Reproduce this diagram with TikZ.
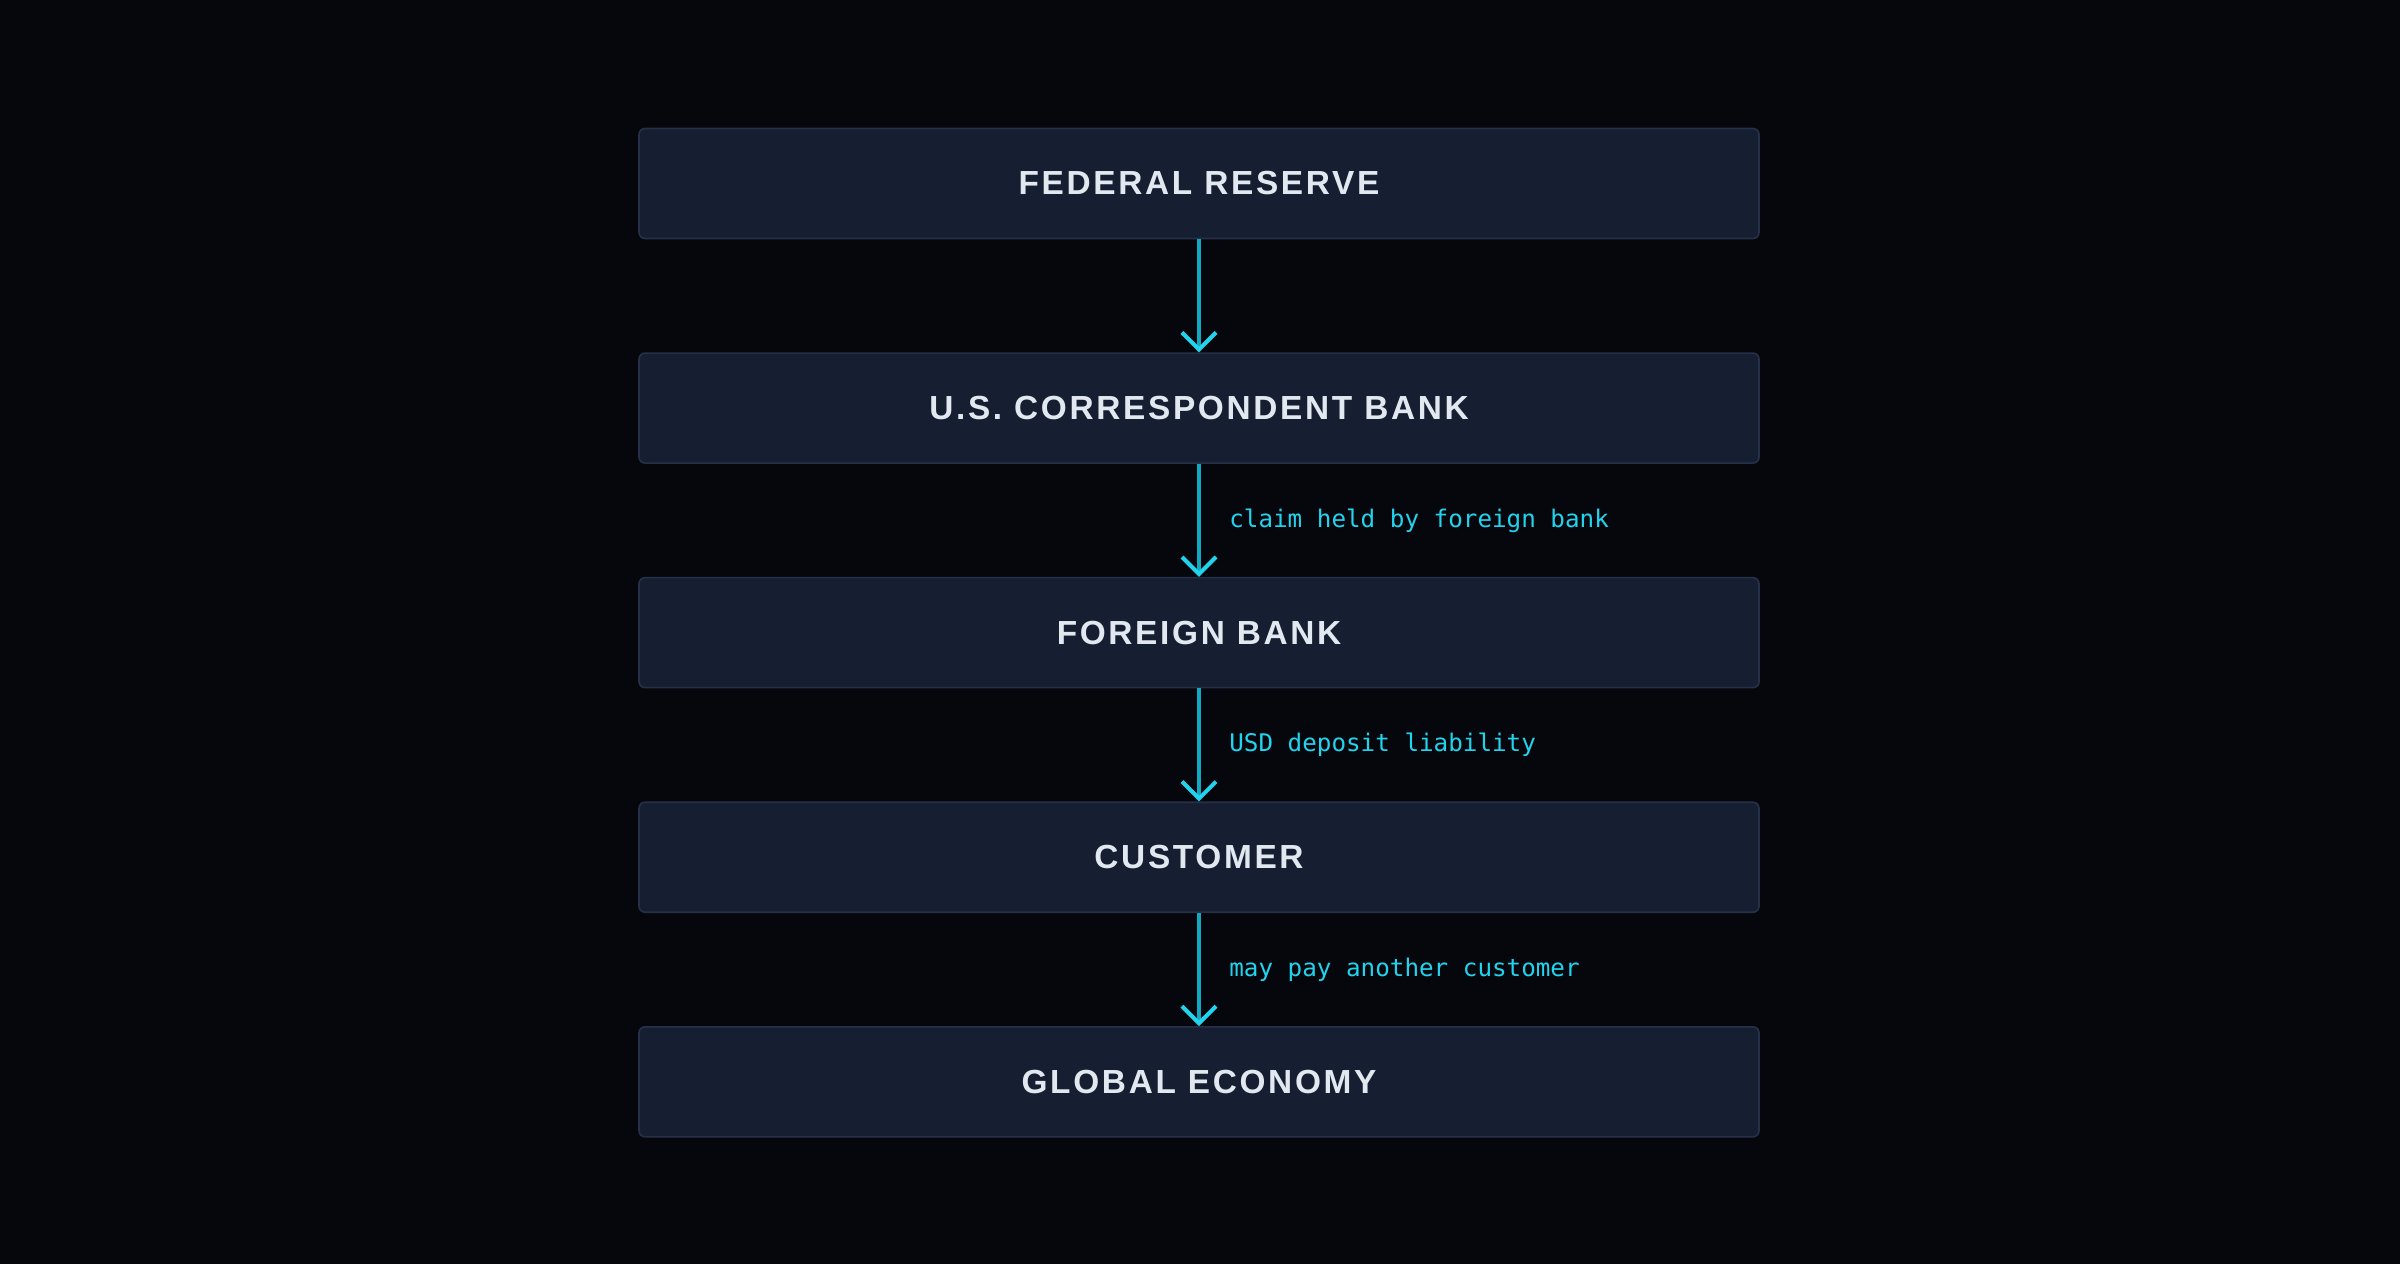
\documentclass[tikz,border=0pt]{standalone}
\usepackage{fontspec}
\usetikzlibrary{positioning,arrows.meta}
\newfontfamily\boxfont[LetterSpace=8]{Liberation Sans}
\newfontfamily\notefont{DejaVu Sans Mono}
\definecolor{bgdark}{HTML}{05070C}
\definecolor{boxfill}{HTML}{161F31}
\definecolor{boxedge}{HTML}{263049}
\definecolor{boxtext}{HTML}{E2E8F0}
\definecolor{flowline}{HTML}{14A7C2}
\definecolor{flowtip}{HTML}{22D3EE}
\begin{document}
\begin{tikzpicture}[
  box/.style={draw=boxedge,fill=boxfill,line width=0.45pt,rounded corners=0.06cm,
    minimum width=11.2cm,minimum height=1.1cm,text=boxtext,
    font=\boxfont\bfseries\fontsize{9.5}{11}\selectfont},
  flow/.style={draw=flowline,line width=0.9pt,
    -{Straight Barb[length=0.17cm,width=0.34cm,line width=0.25pt 1,color=flowtip]}},
  note/.style={text=flowtip,font=\notefont\fontsize{6.9}{8}\selectfont,anchor=west},
  node distance=1.13cm]
\fill[bgdark] (0,0) rectangle (24,12.64);
\node[box] (fed) at (11.99,10.805) {FEDERAL RESERVE};
\node[box,below=of fed] (corr) {U.S. CORRESPONDENT BANK};
\node[box,below=of corr] (foreign) {FOREIGN BANK};
\node[box,below=of foreign] (cust) {CUSTOMER};
\node[box,below=of cust] (world) {GLOBAL ECONOMY};
\draw[flow] (fed) -- (corr);
\foreach\a/\b/\t in {corr/foreign/claim held by foreign bank,
  foreign/cust/USD deposit liability,cust/world/may pay another customer} {
  \draw[flow] (\a) -- (\b) node[midway,note,xshift=0.17cm]{\t};
}
\end{tikzpicture}
\end{document}
